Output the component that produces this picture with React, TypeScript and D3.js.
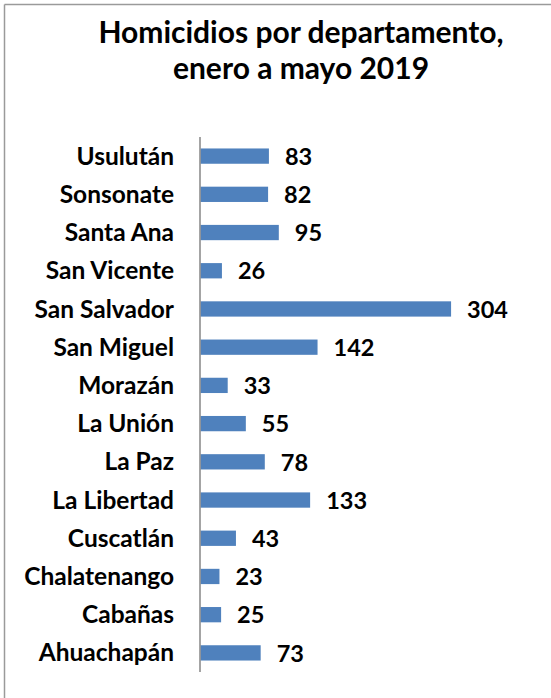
import React from "react";
import * as d3 from "d3";

const categories = [
  "Usulután",
  "Sonsonate",
  "Santa Ana",
  "San Vicente",
  "San Salvador",
  "San Miguel",
  "Morazán",
  "La Unión",
  "La Paz",
  "La Libertad",
  "Cuscatlán",
  "Chalatenango",
  "Cabañas",
  "Ahuachapán",
];
const values = [83, 82, 95, 26, 304, 142, 33, 55, 78, 133, 43, 23, 25, 73];
const titleLines = ["Homicidios por departamento,", "enero a mayo 2019"];

const W = 551;
const H = 698;
const FONT = "Lato, 'Open Sans', sans-serif";

export default function App() {
  const x = d3.scaleLinear().domain([0, 350]).range([200.5, 489]);
  const y = d3
    .scaleBand<string>()
    .domain(categories)
    .range([137, 672])
    .paddingInner(0.6)
    .paddingOuter(0.3);

  return (
    <svg
      width={W}
      height={H}
      style={{ position: "absolute", left: 0, top: 0, background: "#fff" }}
    >
      <rect x={0} y={0} width={W} height={H} fill="#fff" />
      <line x1={4.5} y1={4.5} x2={W} y2={4.5} stroke="#9a9a9a" strokeWidth={1.5} />
      <line x1={4.5} y1={4.5} x2={4.5} y2={H} stroke="#9a9a9a" strokeWidth={1.5} />

      {titleLines.map((t, i) => (
        <text
          key={i}
          x={301}
          y={43 + i * 36}
          textAnchor="middle"
          fontFamily={FONT}
          fontWeight="bold"
          fontSize={30}
          fill="#000"
        >
          {t}
        </text>
      ))}

      {categories.map((c, i) => {
        const yy = y(c)!;
        const bw = y.bandwidth();
        return (
          <g key={c}>
            <rect
              x={x(0)}
              y={yy}
              width={x(values[i]) - x(0)}
              height={bw}
              fill="#4F81BD"
            />
            <text
              x={174}
              y={yy + bw / 2}
              dy="0.35em"
              textAnchor="end"
              fontFamily={FONT}
              fontWeight="bold"
              fontSize={24.5}
              fill="#000"
            >
              {c}
            </text>
            <text
              x={x(values[i]) + 16}
              y={yy + bw / 2}
              dy="0.37em"
              textAnchor="start"
              fontFamily={FONT}
              fontWeight="bold"
              fontSize={23.5}
              fill="#000"
            >
              {values[i]}
            </text>
          </g>
        );
      })}

      <line x1={200} y1={137} x2={200} y2={672} stroke="#868686" strokeWidth={1.5} />
    </svg>
  );
}
